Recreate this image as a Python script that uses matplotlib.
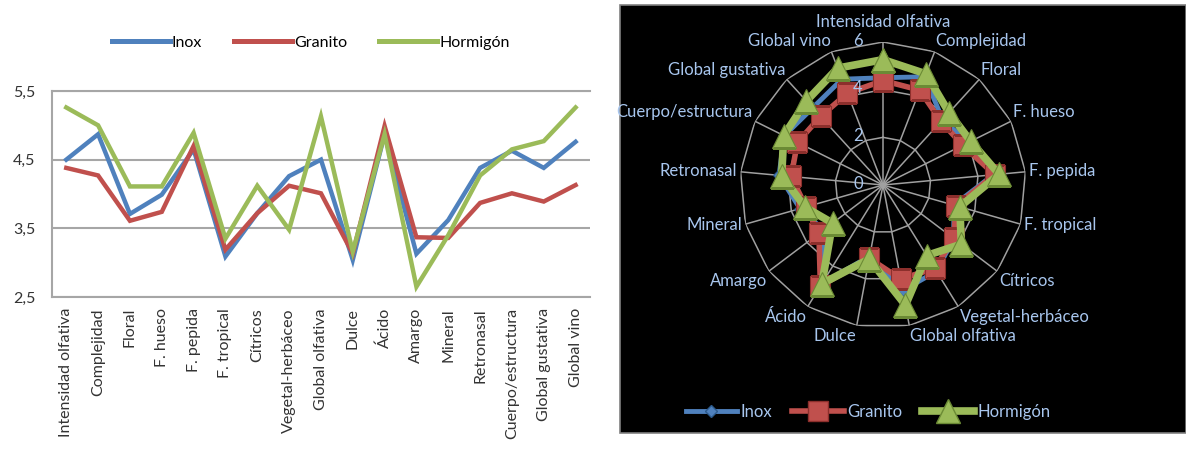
import numpy as np
import matplotlib
matplotlib.use("Agg")
import matplotlib.pyplot as plt
from matplotlib.patches import Rectangle
from matplotlib.lines import Line2D

plt.rcParams['font.family'] = ['Lato', 'DejaVu Sans']

categories = ["Intensidad olfativa", "Complejidad", "Floral", "F. hueso", "F. pepida",
              "F. tropical", "Cítricos", "Vegetal-herbáceo", "Global olfativa", "Dulce",
              "Ácido", "Amargo", "Mineral", "Retronasal", "Cuerpo/estructura",
              "Global gustativa", "Global vino"]

inox = [4.50, 4.87, 3.71, 3.99, 4.65, 3.09, 3.72, 4.26, 4.50, 3.04,
        4.87, 3.13, 3.62, 4.38, 4.63, 4.38, 4.76]
granito = [4.38, 4.27, 3.61, 3.74, 4.70, 3.19, 3.72, 4.12, 4.01, 3.13,
           4.99, 3.37, 3.36, 3.87, 4.01, 3.89, 4.13]
hormigon = [5.26, 5.00, 4.11, 4.11, 4.89, 3.35, 4.12, 3.48, 5.13, 3.16,
            4.87, 2.65, 3.40, 4.27, 4.65, 4.77, 5.26]

series_names = ["Inox", "Granito", "Hormigón"]
colors = ["#4F81BD", "#C0504D", "#9BBB59"]
edge_colors = ["#2C5A8C", "#8C2F2C", "#6B8A35"]

fig = plt.figure(figsize=(11.86, 4.5), dpi=100)

# ---- line chart (left) ----
ax = fig.add_axes([0.0438, 0.34, 0.4536, 0.4578])
x = np.arange(len(categories))
for vals, name, c in zip([inox, granito, hormigon], series_names, colors):
    ax.plot(x, vals, color=c, lw=3.2, label=name, solid_joinstyle='miter')
ax.set_xlim(-0.45, 16.45)
ax.set_ylim(2.5, 5.5)
ax.set_yticks([2.5, 3.5, 4.5, 5.5])
ax.set_yticklabels(["2,5", "3,5", "4,5", "5,5"], fontsize=11.5, color='#333333')
ax.set_xticks(x)
ax.set_xticklabels(categories, rotation=90, fontsize=11.5, color='#333333', va='top')
ax.tick_params(length=0, pad=8)
ax.tick_params(axis='y', pad=12)
ax.yaxis.grid(True, color='#A6A6A6', lw=1.5)
ax.set_axisbelow(True)
ax.spines['right'].set_visible(False)
for s in ['left', 'bottom', 'top']:
    ax.spines[s].set_color('#A6A6A6')
    ax.spines[s].set_linewidth(1.5)

fig.legend(handles=[Line2D([], [], color=c, lw=3.6) for c in colors], labels=series_names,
           loc='center', bbox_to_anchor=(0.262, 1 - 43 / 450), ncol=3, frameon=False,
           fontsize=11.5, handlelength=3.6, handletextpad=0.15, columnspacing=2.0)

# ---- radar chart (right) ----
panel = Rectangle((620 / 1186, 1 - 433 / 450), 1 - 620 / 1186, (433 - 5) / 450,
                  transform=fig.transFigure, facecolor='black',
                  edgecolor='#808080', lw=1.2, zorder=-5)
fig.patches.append(panel)

rax = fig.add_axes([(883 - 143) / 1186, 1 - (185 + 143) / 450, 286 / 1186, 286 / 450],
                   projection='polar')
rax.set_facecolor('none')
rax.set_theta_zero_location('N')
rax.set_theta_direction(-1)
rax.set_ylim(0, 6)
rax.grid(False)
rax.spines['polar'].set_visible(False)
rax.set_xticks([])
rax.set_yticks([])

n = len(categories)
theta = np.linspace(0, 2 * np.pi, n, endpoint=False)
theta_c = np.append(theta, theta[0])
grid_c = '#A0A0A0'
for r in [2, 4, 6]:
    rax.plot(theta_c, [r] * (n + 1), color=grid_c, lw=1.1, zorder=1)
for t in theta:
    rax.plot([t, t], [0, 6], color=grid_c, lw=1.1, zorder=1)

markers = ['D', 's', '^']
msizes = [6, 14, 17]
lws = [3.5, 4, 5.5]
for vals, c, ec, m, ms, lw in zip([inox, granito, hormigon], colors, edge_colors,
                                  markers, msizes, lws):
    v = np.append(vals, vals[0])
    rax.plot(theta_c, v, color=c, lw=lw, marker=m, markersize=ms,
             markerfacecolor=c, markeredgecolor=ec, markeredgewidth=0.8, zorder=3)

text_c = '#A8C6EE'
for t, lab in zip(theta, categories):
    s, co = np.sin(t), np.cos(t)
    if abs(s) < 0.15:
        ha = 'center'
    elif s > 0:
        ha = 'left'
    else:
        ha = 'right'
    if co > 0.95:
        va = 'bottom'
        rr = 6.5
    elif co > 0.3:
        va = 'bottom'
        rr = 6.1
    elif co > -0.3:
        va = 'center'
        rr = 6.15
    else:
        va = 'top'
        rr = 6.1
    txt = rax.text(t, rr, lab, ha=ha, va=va, fontsize=12, color=text_c)
    # labels running past the panel edge get cut off
    txt.set_clip_path(panel)

for r in [0, 2, 4, 6]:
    rax.annotate(str(r), xy=(0, r), xytext=(-18, 1), textcoords='offset points',
                 ha='center', va='center', fontsize=12, color=text_c, zorder=5)

handles = [Line2D([], [], color=c, lw=lw, marker=m, markersize=ms,
                  markerfacecolor=c, markeredgecolor=ec)
           for c, ec, m, ms, lw in zip(colors, edge_colors, markers, msizes, lws)]
leg = fig.legend(handles=handles, labels=series_names, loc='center',
                 bbox_to_anchor=(868 / 1186, 1 - 412 / 450), ncol=3, frameon=False,
                 fontsize=12, handlelength=3.1, handletextpad=0.2, columnspacing=1.2)
for t in leg.get_texts():
    t.set_color(text_c)

fig.savefig("out.png", dpi=100)
